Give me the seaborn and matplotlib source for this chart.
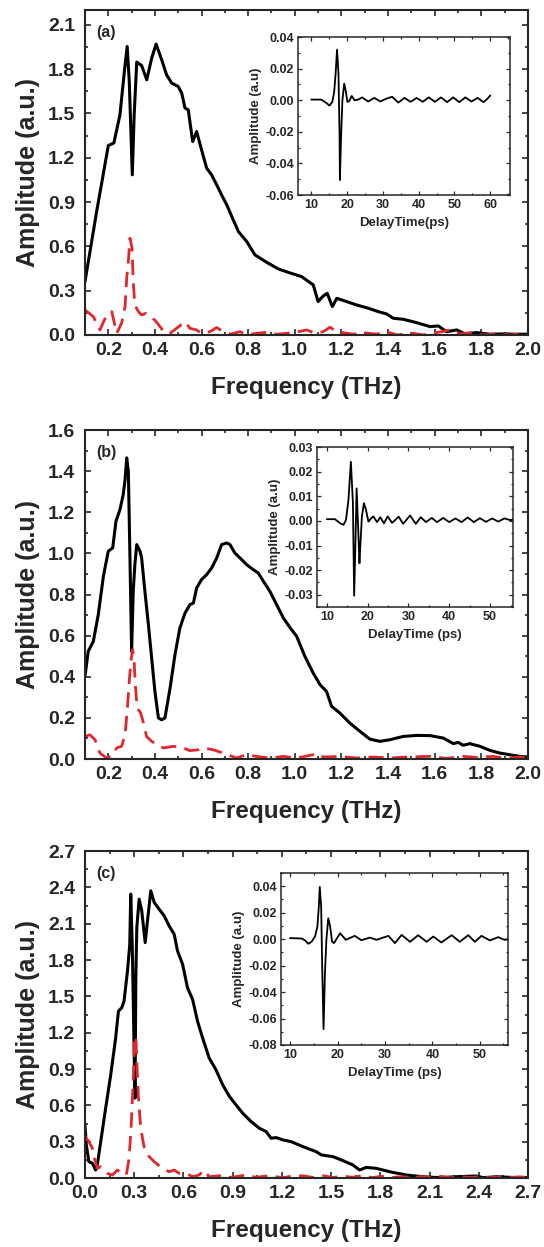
import matplotlib
matplotlib.use("Agg")
import matplotlib.pyplot as plt
from matplotlib.ticker import MultipleLocator, AutoMinorLocator, FormatStrFormatter
import seaborn as sns
import pandas as pd

# === Datos ===
# (a) espectros
a_ref_x = [0.10, 0.15, 0.178, 0.20, 0.224, 0.25, 0.269, 0.281, 0.29, 0.303, 0.311, 0.322, 0.343, 0.365,
           0.386, 0.405, 0.429, 0.45, 0.472, 0.50, 0.515, 0.529, 0.543, 0.562, 0.579, 0.60, 0.622, 0.643,
           0.665, 0.686, 0.708, 0.736, 0.758, 0.794, 0.829, 0.879, 0.929, 0.979, 1.029, 1.079, 1.10,
           1.122, 1.139, 1.161, 1.18, 1.222, 1.265, 1.315, 1.358, 1.394, 1.422, 1.465, 1.523, 1.58,
           1.615, 1.651, 1.694, 1.73, 1.78, 1.837, 1.894, 1.95, 2.0]
a_ref_y = [0.36, 0.835, 1.084, 1.282, 1.30, 1.49, 1.784, 1.953, 1.716, 1.084, 1.49, 1.847, 1.824, 1.727,
           1.874, 1.969, 1.863, 1.761, 1.705, 1.682, 1.637, 1.536, 1.524, 1.309, 1.377, 1.253, 1.129, 1.084,
           1.016, 0.948, 0.881, 0.779, 0.70, 0.632, 0.542, 0.492, 0.447, 0.42, 0.395, 0.339, 0.226,
           0.264, 0.282, 0.192, 0.248, 0.226, 0.203, 0.181, 0.158, 0.142, 0.113, 0.106, 0.083, 0.056,
           0.061, 0.022, 0.034, 0.007, 0.016, 0.005, 0.007, 0.005, 0.005]
a_sam_x = [0.10, 0.136, 0.164, 0.193, 0.215, 0.236, 0.257, 0.272, 0.279, 0.286, 0.293, 0.302, 0.307, 0.314,
           0.329, 0.343, 0.362, 0.379, 0.40, 0.422, 0.443, 0.465, 0.493, 0.529, 0.55, 0.579, 0.60, 0.636,
           0.665, 0.693, 0.722, 0.765, 0.794, 0.836, 0.879, 0.922, 0.965, 1.008, 1.051, 1.087, 1.122,
           1.151, 1.18, 1.251, 1.294, 1.351, 1.394, 1.437, 1.508, 1.551, 1.63, 1.665, 1.708, 1.758,
           1.808, 1.866, 1.923, 1.966, 2.0]
a_sam_y = [0.169, 0.124, 0.034, 0.135, 0.158, 0.011, 0.079, 0.192, 0.384, 0.497, 0.655, 0.587, 0.361, 0.203,
           0.158, 0.135, 0.147, 0.124, 0.10, 0.056, 0.011, 0.011, 0.045, 0.09, 0.045, 0.034, 0.011, 0.022,
           0.05, 0.022, 0.005, 0.022, 0.0, 0.011, 0.018, 0.005, 0.011, 0.02, 0.034, 0.011, 0.022,
           0.052, 0.022, 0.005, 0.016, 0.005, 0.022, 0.0, 0.011, 0.0, 0.022, 0.034, 0.007, 0.016,
           0.0, 0.007, 0.0, 0.007, 0.004]

# (b) espectros
b_ref_x = [0.10, 0.114, 0.136, 0.157, 0.179, 0.20, 0.219, 0.233, 0.25, 0.264, 0.272, 0.279, 0.286, 0.293,
           0.30, 0.307, 0.314, 0.322, 0.336, 0.343, 0.357, 0.372, 0.386, 0.40, 0.415, 0.429, 0.443, 0.465,
           0.486, 0.507, 0.529, 0.55, 0.565, 0.579, 0.60, 0.622, 0.643, 0.665, 0.686, 0.708, 0.722, 0.743,
           0.765, 0.793, 0.822, 0.843, 0.865, 0.893, 0.922, 0.951, 0.979, 1.008, 1.043, 1.079, 1.108,
           1.136, 1.158, 1.193, 1.236, 1.279, 1.322, 1.365, 1.408, 1.465, 1.522, 1.58, 1.637, 1.68,
           1.701, 1.722, 1.751, 1.794, 1.837, 1.88, 1.922, 1.965, 2.0]
b_ref_y = [0.402, 0.524, 0.573, 0.702, 0.889, 1.011, 1.027, 1.157, 1.213, 1.286, 1.359, 1.465, 1.40, 0.978,
           0.524, 0.816, 0.946, 1.043, 1.011, 0.978, 0.816, 0.654, 0.491, 0.329, 0.20, 0.191, 0.20, 0.345,
           0.508, 0.637, 0.71, 0.751, 0.759, 0.832, 0.873, 0.897, 0.929, 0.978, 1.043, 1.051, 1.043, 1.002,
           0.978, 0.946, 0.921, 0.905, 0.865, 0.816, 0.751, 0.686, 0.64, 0.597, 0.50, 0.418, 0.362,
           0.329, 0.256, 0.224, 0.175, 0.135, 0.097, 0.086, 0.094, 0.11, 0.115, 0.114, 0.102, 0.075,
           0.081, 0.067, 0.075, 0.062, 0.042, 0.029, 0.021, 0.013, 0.01]
b_sam_x = [0.10, 0.121, 0.143, 0.164, 0.193, 0.214, 0.236, 0.257, 0.272, 0.282, 0.29, 0.297, 0.304, 0.31,
           0.317, 0.324, 0.339, 0.353, 0.364, 0.386, 0.41, 0.436, 0.479, 0.522, 0.55, 0.586, 0.607, 0.65,
           0.693, 0.75, 0.793, 0.836, 0.893, 0.951, 1.008, 1.1, 1.122, 1.193, 1.265, 1.336, 1.408, 1.479,
           1.58, 1.651, 1.722, 1.78, 1.851, 1.908, 1.965, 2.0]
b_sam_y = [0.11, 0.118, 0.094, 0.029, 0.005, 0.013, 0.054, 0.062, 0.118, 0.248, 0.378, 0.475, 0.532, 0.491,
           0.345, 0.248, 0.224, 0.167, 0.11, 0.086, 0.07, 0.054, 0.062, 0.054, 0.041, 0.045, 0.054, 0.045,
           0.029, 0.005, 0.021, 0.013, 0.005, 0.013, 0.005, 0.026, 0.01, 0.013, 0.005, 0.01, 0.005, 0.01,
           0.013, 0.003, 0.013, 0.008, 0.013, 0.003, 0.01, 0.006]

# (c) espectros
c_ref_x = [0.0, 0.008, 0.024, 0.045, 0.065, 0.075, 0.096, 0.126, 0.157, 0.187, 0.204, 0.224, 0.238, 0.259,
           0.273, 0.279, 0.289, 0.299, 0.305, 0.31, 0.316, 0.33, 0.346, 0.367, 0.381, 0.401, 0.422, 0.452,
           0.483, 0.513, 0.544, 0.564, 0.595, 0.625, 0.656, 0.686, 0.717, 0.757, 0.798, 0.839, 0.88, 0.92,
           0.961, 1.012, 1.063, 1.104, 1.134, 1.165, 1.205, 1.256, 1.327, 1.409, 1.44, 1.511, 1.572,
           1.633, 1.674, 1.714, 1.775, 1.857, 1.959, 2.06, 2.162, 2.264, 2.386, 2.427, 2.509, 2.59,
           2.651, 2.7]
c_ref_y = [0.439, 0.273, 0.135, 0.122, 0.066, 0.108, 0.301, 0.577, 0.853, 1.157, 1.378, 1.406, 1.461, 1.709,
           1.93, 2.345, 1.875, 1.102, 0.66, 1.654, 2.068, 2.303, 2.207, 1.944, 2.124, 2.372, 2.276, 2.22,
           2.165, 2.082, 2.013, 1.875, 1.765, 1.571, 1.475, 1.295, 1.157, 0.991, 0.895, 0.771, 0.674, 0.605,
           0.536, 0.467, 0.411, 0.384, 0.329, 0.334, 0.315, 0.301, 0.26, 0.218, 0.191, 0.177, 0.144,
           0.108, 0.066, 0.088, 0.08, 0.052, 0.025, 0.011, 0.003, 0.011, 0.017, 0.003, 0.011, 0.006,
           0.003, 0.005]
c_sam_x = [0.0, 0.024, 0.045, 0.055, 0.075, 0.096, 0.116, 0.136, 0.167, 0.198, 0.228, 0.252, 0.269, 0.281,
           0.293, 0.303, 0.31, 0.316, 0.326, 0.34, 0.36, 0.391, 0.422, 0.452, 0.483, 0.513, 0.544, 0.574,
           0.615, 0.656, 0.696, 0.727, 0.757, 0.819, 0.859, 0.92, 0.981, 1.043, 1.124, 1.205, 1.267,
           1.33, 1.39, 1.45, 1.51, 1.57, 1.63, 1.69, 1.75, 1.81, 1.87, 1.93, 1.99, 2.05, 2.11, 2.17,
           2.23, 2.29, 2.35, 2.41, 2.47, 2.53, 2.59, 2.65, 2.70]
c_sam_y = [0.342, 0.301, 0.246, 0.177, 0.08, 0.094, 0.066, 0.039, 0.025, 0.066, 0.039, 0.025, 0.163, 0.411,
           0.77, 1.157, 1.171, 0.964, 0.66, 0.411, 0.26, 0.177, 0.135, 0.102, 0.075, 0.052, 0.066, 0.039,
           0.039, 0.011, 0.025, 0.066, 0.011, 0.019, 0.003, 0.011, 0.025, 0.006, 0.019, 0.003, 0.017,
           0.018, 0.005, 0.02, 0.004, 0.016, 0.006, 0.02, 0.004, 0.014, 0.004, 0.012, 0.003, 0.012, 0.004,
           0.014, 0.003, 0.012, 0.004, 0.013, 0.003, 0.01, 0.004, 0.01, 0.005]

# Insets: señal temporal
a_t = [10, 12.8, 14.2, 15.1, 15.9, 16.4, 16.8, 17.2, 17.6, 17.9, 18.0, 18.3, 18.7, 19.2, 19.6, 20.1, 20.6,
       21.3, 22.1, 23.1, 24.2, 25.0, 25.9, 26.8, 27.6, 28.5, 29.3, 30.1, 31.0, 31.8, 32.6, 33.5, 34.3,
       35.2, 36.0, 36.9, 37.7, 38.6, 39.4, 40.3, 41.1, 42.0, 42.8, 43.7, 44.5, 45.4, 46.2, 47.1, 47.9,
       48.8, 49.6, 50.5, 51.3, 52.2, 53.0, 53.9, 54.7, 55.6, 56.4, 57.3, 58.1, 59.0, 60.0]
a_s = [0.0004, 0.0004, -0.0017, -0.0034, -0.001, 0.0053, 0.0168, 0.032, 0.0168, -0.021, -0.0505, -0.025,
       0.0, 0.0105, 0.0063, -0.001, -0.0006, 0.0027, 0.0, 0.0004, 0.0018, 0.0005, -0.0008, 0.0004, 0.0015,
       0.0003, -0.0008, 0.0001, 0.001, 0.0016, 0.0022, 0.0003, -0.0015, 0.0, 0.0015, 0.0002, -0.001, 0.0002,
       0.0015, 0.0002, -0.001, 0.0004, 0.0018, 0.0004, -0.001, 0.0004, 0.0018, 0.0003, -0.0012, 0.0003,
       0.0018, 0.0003, -0.0012, 0.0003, 0.0018, 0.0005, -0.0008, 0.0003, 0.0015, 0.0001, -0.0012, 0.0005,
       0.003]
b_t = [10, 12, 13.3, 14.1, 14.7, 15.3, 15.9, 16.4, 16.7, 17.0, 17.3, 17.7, 18.0, 18.2, 18.6, 19.1, 19.6,
       20.2, 20.9, 21.4, 22.3, 23.1, 24.0, 24.9, 26.0, 27.6, 28.7, 30.4, 31.8, 33.0, 34.3, 35.7, 37.0,
       38.5, 40.0, 41.5, 43.0, 44.5, 46.0, 47.5, 49.0, 50.5, 52.0, 53.5, 55.0, 56.0]
b_s = [0.0007, 0.0007, -0.001, -0.0016, 0.0004, 0.0085, 0.024, 0.0072, -0.0304, -0.0104, 0.0132, -0.0036,
       -0.0172, -0.0104, 0.0018, 0.0072, 0.0045, -0.0003, 0.0011, 0.0018, -0.0005, 0.0015, -0.001, 0.0018,
       -0.0008, 0.0017, -0.0012, 0.0022, -0.0012, 0.0015, -0.0005, 0.0012, -0.0005, 0.0012, -0.0005, 0.001,
       -0.0005, 0.0014, -0.0005, 0.0011, -0.0004, 0.001, -0.0003, 0.001, 0.0003, 0.0008]
c_t = [9.9, 12.4, 13.1, 13.8, 14.5, 15.2, 15.7, 16.0, 16.2, 16.5, 16.7, 17.0, 17.3, 17.6, 18.0, 18.4, 18.8,
       19.2, 20.5, 21.7, 23.6, 25.0, 26.8, 28.2, 30.7, 32.1, 33.5, 35.3, 37.0, 38.8, 40.2, 41.9, 44.1,
       45.8, 47.6, 49.0, 50.4, 52.2, 53.9, 55.3, 56.0]
c_s = [0.0008, 0.0005, -0.001, -0.0035, -0.0018, 0.002, 0.0095, 0.0245, 0.0395, 0.0245, -0.018, -0.068,
       -0.0255, -0.0005, 0.0158, 0.0095, -0.0018, -0.003, 0.0045, -0.0005, 0.0025, -0.0008, 0.0012,
       -0.0005, 0.0025, -0.003, 0.0032, -0.002, 0.003, -0.002, 0.002, -0.0025, 0.003, -0.002, 0.003,
       -0.002, 0.0025, -0.001, 0.0015, -0.0005, 0.0]

RED = "#e3262c"

sns.set_style("ticks")
plt.rcParams["font.family"] = ["Liberation Sans", "DejaVu Sans"]
plt.rcParams["font.weight"] = "bold"
plt.rcParams["axes.unicode_minus"] = False


def _style_axes(ax, width, major, minor, size):
    for s in ax.spines.values():
        s.set_linewidth(width)
        s.set_visible(True)
    ax.tick_params(which="both", direction="in", top=True, right=True, width=width * 0.8,
                   labelsize=size)
    ax.tick_params(which="major", length=major)
    ax.tick_params(which="minor", length=minor)
    for lbl in ax.get_xticklabels() + ax.get_yticklabels():
        lbl.set_fontweight("bold")


def panel(rect, ref_x, ref_y, sam_x, sam_y, xlim, xstep, ylim, ystep, tag):
    ax = fig.add_axes(rect)
    sns.lineplot(x=ref_x, y=ref_y, ax=ax, color="black", lw=2.2, estimator=None, sort=False)
    sns.lineplot(x=sam_x, y=sam_y, ax=ax, color=RED, lw=2.0, estimator=None, sort=False,
                 linestyle=(0, (5.5, 3)))
    ax.set_xlim(*xlim)
    ax.set_ylim(*ylim)
    ax.xaxis.set_major_locator(MultipleLocator(xstep))
    ax.xaxis.set_minor_locator(AutoMinorLocator(2))
    ax.yaxis.set_major_locator(MultipleLocator(ystep))
    ax.yaxis.set_minor_locator(AutoMinorLocator(2))
    ax.xaxis.set_major_formatter(FormatStrFormatter("%.1f"))
    ax.yaxis.set_major_formatter(FormatStrFormatter("%.1f"))
    _style_axes(ax, 1.5, 4, 2.2, 14)
    ax.tick_params(axis="x", pad=5)
    ax.tick_params(axis="y", pad=7)
    ax.set_xlabel("Frequency (THz)", fontsize=17.5, fontweight="bold", labelpad=12)
    ax.set_ylabel("Amplitude (a.u.)", fontsize=18, fontweight="bold", labelpad=6)
    ax.text(0.026, 0.955, tag, transform=ax.transAxes, ha="left", va="top",
            fontsize=11.5, fontweight="bold")
    return ax


def inset(rect, t, s, xlim, ylim, ystep, xlabel):
    ax = fig.add_axes(rect)
    sns.lineplot(x=t, y=s, ax=ax, color="black", lw=1.3, estimator=None, sort=False)
    ax.set_xlim(*xlim)
    ax.set_ylim(*ylim)
    ax.xaxis.set_major_locator(MultipleLocator(10))
    ax.xaxis.set_minor_locator(AutoMinorLocator(2))
    ax.yaxis.set_major_locator(MultipleLocator(ystep))
    ax.yaxis.set_minor_locator(AutoMinorLocator(2))
    ax.yaxis.set_major_formatter(FormatStrFormatter("%.2f"))
    _style_axes(ax, 1.1, 3, 1.6, 9)
    ax.tick_params(pad=3)
    ax.set_xlabel(xlabel, fontsize=9.5, fontweight="bold", labelpad=4)
    ax.set_ylabel("Amplitude (a.u)", fontsize=9.5, fontweight="bold", labelpad=2)
    return ax


fig = plt.figure(figsize=(5.44, 12.47), dpi=100)
fig.patch.set_facecolor("white")

panel([0.1562, 0.7314, 0.8143, 0.2606], a_ref_x, a_ref_y, a_sam_x, a_sam_y,
      (0.1, 2.0), 0.2, (0, 2.2), 0.3, "(a)")
panel([0.1562, 0.3913, 0.8143, 0.2638], b_ref_x, b_ref_y, b_sam_x, b_sam_y,
      (0.1, 2.0), 0.2, (0, 1.6), 0.2, "(b)")
panel([0.1562, 0.0553, 0.8143, 0.2622], c_ref_x, c_ref_y, c_sam_x, c_sam_y,
      (0, 2.7), 0.3, (0, 2.7), 0.3, "(c)")

inset([0.5478, 0.8436, 0.3897, 0.1267], a_t, a_s, (6.3, 65.5), (-0.06, 0.04), 0.02, "DelayTime(ps)")
inset([0.5827, 0.5132, 0.3603, 0.1283], b_t, b_s, (7.6, 55.6), (-0.035, 0.03), 0.01, "DelayTime (ps)")
inset([0.5165, 0.1620, 0.4173, 0.1379], c_t, c_s, (8, 56), (-0.08, 0.05), 0.02, "DelayTime (ps)")

fig.savefig("out.png", dpi=100)
plt.close(fig)
